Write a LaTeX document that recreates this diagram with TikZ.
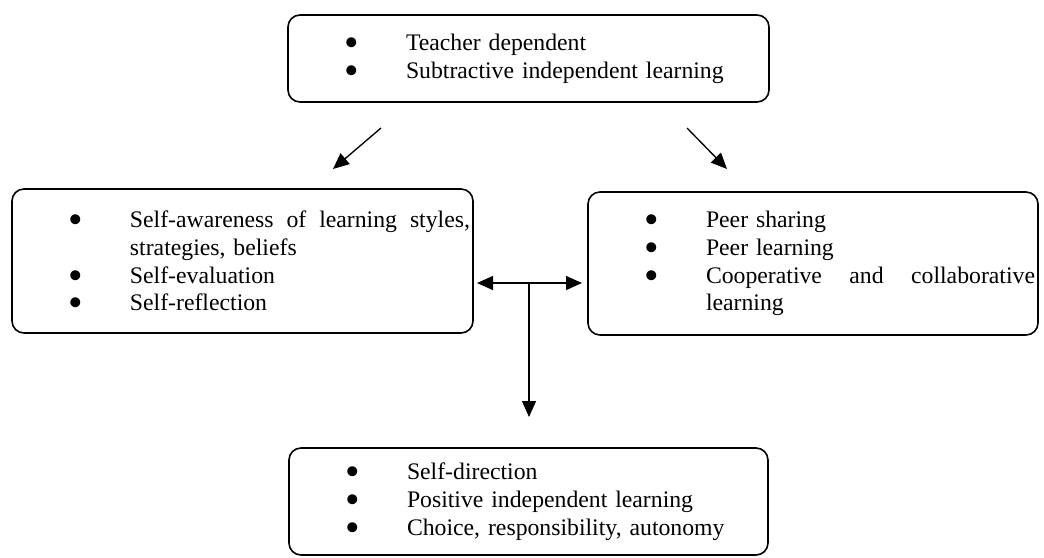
\documentclass[tikz,border=0pt]{standalone}
\usepackage{fontspec}
\setmainfont{Liberation Serif}
\usetikzlibrary{arrows.meta}
\setlength{\parindent}{0pt}
% one bulleted line, and the run-on line of a wrapped item
\newcommand{\bdot}{\smash{\raisebox{-4.6pt}{\scalebox{1.75}{\textbullet}}}}
\newcommand{\itm}[1]{\hspace*{42pt}\makebox[46.5pt][l]{\bdot}#1\par}
\newcommand{\cnt}[1]{\hspace*{88.5pt}#1\par}

\begin{document}
\begin{tikzpicture}[x=0.75pt,y=-0.75pt,
    box/.style={draw,line width=1.2pt,rounded corners=9pt,inner xsep=0pt,inner ysep=0pt,
      align=left,font=\fontsize{17.8pt}{20.8pt}\selectfont},
    arr/.style={line width=1pt,-{Triangle[length=12pt,width=10.5pt]}},
    darr/.style={line width=1pt,{Triangle[length=12pt,width=10.5pt]}-{Triangle[length=12pt,width=10.5pt]}}]
  \useasboundingbox (0,0) rectangle (1044,557);

  % boxes
  \node[box,text width=360.75pt,minimum height=65.25pt] (top) at (528.5,58.5){%
    \itm{Teacher dependent}
    \itm{Subtractive independent learning}};
  \node[box,text width=345.75pt,minimum height=108pt] (self) at (242.5,261){%
    \itm{\hbox to 255pt{Self-awareness\hfill of\hfill learning\hfill styles,}}
    \cnt{strategies, beliefs}
    \itm{Self-evaluation}
    \itm{Self-reflection}};
  \node[box,text width=337.5pt,minimum height=107.25pt] (peer) at (813,263.5){%
    \itm{Peer sharing}
    \itm{Peer learning}
    \itm{\hbox to 246.75pt{Cooperative\hfill and\hfill collaborative}}
    \cnt{learning}};
  \node[box,text width=359.25pt,minimum height=80.25pt] (auto) at (528.5,501.5){%
    \itm{Self-direction}
    \itm{Positive independent learning}
    \itm{Choice, responsibility, autonomy}};

  % arrow ends
  \coordinate (la) at (381,128);
  \coordinate (lb) at (333,169);
  \coordinate (ra) at (687,128);
  \coordinate (rb) at (727,169);
  \coordinate (hl) at (477,283);
  \coordinate (hr) at (582,283);
  \coordinate (hm) at (529,283);
  \coordinate (vd) at (529,417);

  \draw[arr] (la) -- (lb);
  \draw[arr] (ra) -- (rb);
  \draw[darr] (hl) -- (hr);
  \draw[arr] (hm) -- (vd);
\end{tikzpicture}
\end{document}
